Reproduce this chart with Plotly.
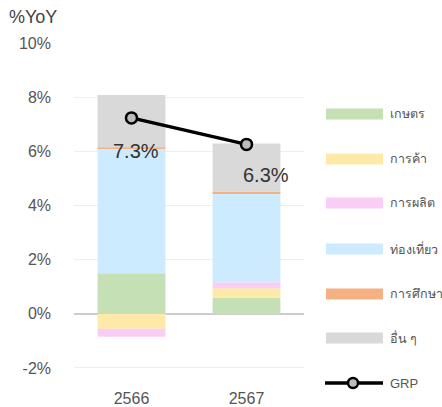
import plotly.graph_objects as go

years = ["2566", "2567"]
series_names = ["เกษตร", "การค้า", "การผลิต", "ท่องเที่ยว", "การศึกษา", "อื่น ๆ"]
agri = [1.5, 0.6]
trade = [-0.55, 0.35]
manuf = [-0.3, 0.22]
tourism = [4.6, 3.3]
education = [0.05, 0.05]
others = [1.95, 1.78]
grp = [7.25, 6.27]
grp_labels = ["7.3%", "6.3%"]
y_ticks = [-2, 0, 2, 4, 6, 8, 10]
y_tick_text = ["-2%", "0%", "2%", "4%", "6%", "8%", "10%"]

colors = ["#C5E0B4", "#FFE9A8", "#FACDF7", "#CCEBFF", "#F4B183", "#D9D9D9"]
values = [agri, trade, manuf, tourism, education, others]

FONT = "Liberation Sans, Arial, sans-serif"
W, H = 442, 407
PL, PR, PT, PB = 74, 304, 43, 382  # plot area in pixels


def px(x):
    return x / W


def py(y):
    return (H - y) / H


fig = go.Figure()
for name, vals, col in zip(series_names, values, colors):
    fig.add_trace(go.Bar(x=years, y=vals, name=name, marker_color=col,
                         marker_line_width=0, showlegend=False, width=0.59))

fig.add_trace(go.Scatter(x=years, y=grp, name="GRP", mode="lines+markers",
                         line=dict(color="#000000", width=3.5),
                         marker=dict(size=11, color="#BDBDBD",
                                     line=dict(color="#000000", width=2.5)),
                         showlegend=False))

annotations = []
shifts = [(4, -33), (19, -31)]
for i, (v, lab, (dx, dy)) in enumerate(zip(grp, grp_labels, shifts)):
    annotations.append(dict(x=i, y=v, xref="x", yref="y", text=lab, showarrow=False,
                            xshift=dx, yshift=dy,
                            font=dict(size=20, color="#333333", family=FONT)))

annotations.append(dict(x=px(7), y=py(17), xref="paper", yref="paper", text="%YoY",
                        showarrow=False, xanchor="left", yanchor="middle",
                        font=dict(size=18, color="#444444", family=FONT)))

shapes = []
leg_y = [114, 159, 203, 249, 294, 338]
for name, col, yy in zip(series_names, colors, leg_y):
    shapes.append(dict(type="rect", xref="paper", yref="paper",
                       x0=px(326), x1=px(383), y0=py(yy + 5.5), y1=py(yy - 5.5),
                       fillcolor=col, line_width=0))
    annotations.append(dict(x=px(388), y=py(yy), xref="paper", yref="paper", text=name,
                            showarrow=False, xanchor="left", yanchor="middle",
                            font=dict(size=12.5, color="#555555", family=FONT)))
gy = 383
shapes.append(dict(type="line", xref="paper", yref="paper", x0=px(325), x1=px(383),
                   y0=py(gy), y1=py(gy), line=dict(color="#000000", width=3.5)))
shapes.append(dict(type="circle", xref="paper", yref="paper", x0=px(348), x1=px(358),
                   y0=py(gy + 5), y1=py(gy - 5), fillcolor="#BDBDBD",
                   line=dict(color="#000000", width=2.5)))
annotations.append(dict(x=px(388), y=py(gy), xref="paper", yref="paper", text="GRP",
                        showarrow=False, xanchor="left", yanchor="middle",
                        font=dict(size=13, color="#555555", family=FONT)))

fig.update_layout(
    width=W, height=H, margin=dict(l=0, r=0, t=0, b=0, autoexpand=False),
    barmode="relative", plot_bgcolor="white", paper_bgcolor="white",
    font=dict(family=FONT, color="#555555"),
    showlegend=False, annotations=annotations, shapes=shapes,
    xaxis=dict(type="category", range=[-0.5, 1.5], domain=[px(PL), px(PR)],
               showgrid=False, showline=False, zeroline=False,
               tickfont=dict(size=16, color="#555555"), ticklabelstandoff=5),
    yaxis=dict(range=[-2.52, 10.02], domain=[py(PB), py(PT)],
               tickvals=y_ticks, ticktext=y_tick_text,
               showgrid=True, gridcolor="#EEEEEE", gridwidth=1,
               zeroline=True, zerolinecolor="#CCCCCC", zerolinewidth=2,
               tickfont=dict(size=16, color="#555555"), ticklabelstandoff=22),
)

fig.write_html("out.html", config={"displayModeBar": False},
               post_script="document.body.style.margin='0';"
                           "document.body.style.overflow='hidden';")
